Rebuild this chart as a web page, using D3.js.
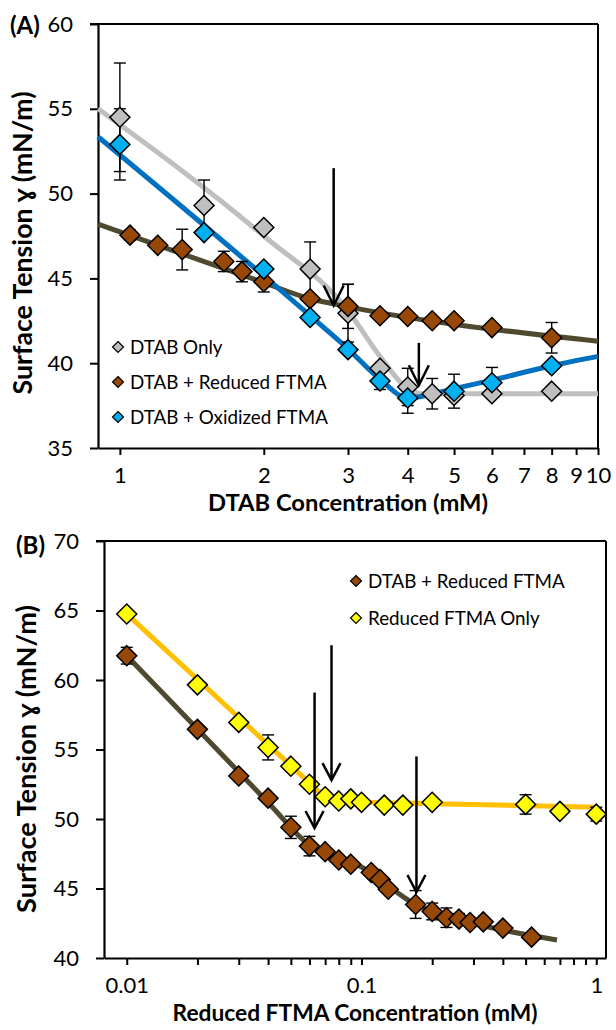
<!DOCTYPE html>
<html>
<head>
<meta charset="utf-8">
<script src="https://cdn.jsdelivr.net/npm/d3@7"></script>
<style>
  body { margin: 0; background: #fff; }
  text { font-family: Lato, "Open Sans", sans-serif; fill: #000; }
</style>
</head>
<body>
<svg id="chart" width="616" height="1030"></svg>
<script>
// ---------- panel A: DTAB concentration (mM) ----------
const onlyX   = [1, 1.5, 2, 2.5, 3, 3.5, 4, 4.5, 5, 6, 8];
const onlyY   = [54.5, 49.3, 48.0, 45.55, 42.95, 39.7, 38.6, 38.2, 38.1, 38.2, 38.35];
const onlyErr = [3.2, 1.5, 0, 1.6, 1.7, 0, 1.1, 0.9, 0, 0, 0];

const redAX   = [1.05, 1.2, 1.35, 1.65, 1.8, 2, 2.5, 3, 3.5, 4, 4.5, 5, 6, 8];
const redAY   = [47.55, 46.95, 46.7, 46.0, 45.4, 44.8, 43.8, 43.35, 42.8, 42.75, 42.5, 42.5, 42.1, 41.5];
const redAErr = [0.3, 0, 1.2, 0.6, 0.6, 0.6, 0, 1.3, 0, 0, 0, 0, 0, 0.9];

const oxX   = [1, 1.5, 2, 2.5, 3, 3.5, 4, 5, 6, 8];
const oxY   = [52.9, 47.7, 45.55, 42.7, 40.8, 38.95, 37.95, 38.35, 38.85, 39.85];
const oxErr = [2.1, 0, 0, 0, 0, 0.5, 0.9, 1.0, 0.9, 0];

// fitted trend lines [conc, tension]
const onlyFit = [[0.9, 55.0], [2.0, 47.5], [3.0, 43.1], [3.5, 40.4], [4.0, 38.5], [4.3, 38.2], [10, 38.2]];
const redAFit = [[0.9, 48.2], [2.0, 44.75], [2.5, 43.8], [2.8, 43.5], [10, 41.3]];
const oxFit   = [[0.9, 53.35], [2.5, 42.8], [3.0, 40.85], [3.5, 39.05], [4.0, 37.95], [5, 38.5], [6, 39.0], [8, 39.85], [10, 40.4]];

// arrows [conc, top, tip]
const arrowsA = [[2.8, 51.5, 43.4], [4.22, 41.2, 38.7]];

const yTicksA = [35, 40, 45, 50, 55, 60];
const xTicksA = [1, 2, 3, 4, 5, 6, 7, 8, 9, 10];

// ---------- panel B: reduced FTMA concentration (mM) ----------
const redBX   = [0.01, 0.02, 0.03, 0.04, 0.05, 0.06, 0.07, 0.08, 0.09, 0.11, 0.12, 0.13, 0.17, 0.2, 0.23, 0.26, 0.29, 0.33, 0.4, 0.53];
const redBY   = [61.75, 56.45, 53.1, 51.5, 49.4, 48.05, 47.65, 47.05, 46.75, 46.15, 45.65, 44.95, 43.85, 43.35, 42.9, 42.8, 42.55, 42.6, 42.15, 41.5];
const redBErr = [0.6, 0, 0, 0, 0.8, 0.7, 0, 0, 0, 0, 0, 0, 1.0, 0.6, 0.7, 0.4, 0, 0, 0, 0];

const ftmaX   = [0.01, 0.02, 0.03, 0.04, 0.05, 0.06, 0.07, 0.08, 0.09, 0.1, 0.125, 0.15, 0.2, 0.5, 0.7, 1.0];
const ftmaY   = [64.75, 59.65, 56.95, 55.15, 53.8, 52.5, 51.6, 51.3, 51.45, 51.2, 51.0, 51.0, 51.2, 51.05, 50.55, 50.35];
const ftmaErr = [0, 0, 0, 0.9, 0, 0, 0, 0, 0, 0, 0, 0, 0, 0.7, 0, 0.5];

const redBFit = [[0.01, 61.75], [0.02, 56.47], [0.04, 51.19], [0.06, 48.1], [0.1, 46.55], [0.17, 43.85], [0.3, 42.5], [0.68, 41.3]];
const ftmaFit = [[0.01, 64.75], [0.03, 57.3], [0.05, 53.84], [0.06, 52.6], [0.07, 51.6], [0.08, 51.3], [0.2, 51.1], [1.0, 50.85]];

const arrowsB = [[0.0631, 59.1, 49.35], [0.0745, 62.5, 52.8], [0.1714, 54.5, 44.75]];

const yTicksB = [40, 45, 50, 55, 60, 65, 70];
const xTicksB = [0.01, 0.02, 0.03, 0.04, 0.05, 0.06, 0.07, 0.08, 0.09,
                 0.1, 0.2, 0.3, 0.4, 0.5, 0.6, 0.7, 0.8, 0.9, 1];
const xLabelsB = ["0.01", "0.1", "1"];

const svg = d3.select("#chart");

function diamond(s) {
  return `M0,${-s}L${s},0L0,${s}L${-s},0Z`;
}

// scale a text's font so it spans the given width
function fitText(t, size, width) {
  t.style("font-size", size + "px");
  const w = t.node().getComputedTextLength();
  t.style("font-size", (size * width / w).toFixed(2) + "px");
  return size * width / w;
}

function drawPanel(o) {
  const x = d3.scaleLog().domain(o.xDomain).range([o.left, o.right]);
  const y = d3.scaleLinear().domain(o.yDomain).range([o.bottom, o.top]);
  const g = svg.append("g");

  // frame top + right
  g.append("line").attr("x1", o.left - 8).attr("x2", o.right)
    .attr("y1", o.top).attr("y2", o.top).attr("stroke", "#000").attr("stroke-width", 2);
  g.append("line").attr("x1", o.right).attr("x2", o.right)
    .attr("y1", o.top).attr("y2", o.bottom).attr("stroke", "#000").attr("stroke-width", 2);

  const ya = g.append("g").attr("transform", `translate(${o.left},0)`)
    .call(d3.axisLeft(y).tickValues(o.yTicks).tickSize(8).tickSizeOuter(0).tickPadding(17));
  const xa = g.append("g").attr("transform", `translate(0,${o.bottom})`)
    .call(d3.axisBottom(x).tickValues(o.xTicks).tickSize(7).tickSizeOuter(0).tickPadding(12)
      .tickFormat(o.xFormat));
  [ya, xa].forEach(a => {
    a.select(".domain").attr("stroke-width", 2.2);
    a.selectAll(".tick line").attr("stroke-width", 2);
    a.selectAll("text").style("font-size", "22px").style("font-family", "Lato, sans-serif");
  });

  // trend lines
  const line = d3.line().x(d => x(d[0])).y(d => y(d[1])).curve(d3.curveMonotoneX);
  o.fits.forEach(f => {
    g.append("path").datum(f.pts).attr("d", line)
      .attr("fill", "none").attr("stroke", f.color).attr("stroke-width", 5)
      .attr("stroke-linejoin", "round");
  });

  // error bars then markers
  o.series.forEach(s => {
    s.x.forEach((cx, i) => {
      const e = s.err[i];
      if (!e) return;
      const px = x(cx);
      const eg = g.append("g").attr("stroke", "#000").attr("stroke-width", 1.4);
      eg.append("line").attr("x1", px).attr("x2", px).attr("y1", y(s.y[i] - e)).attr("y2", y(s.y[i] + e));
      [s.y[i] - e, s.y[i] + e].forEach(v => {
        eg.append("line").attr("x1", px - 6).attr("x2", px + 6).attr("y1", y(v)).attr("y2", y(v));
      });
    });
  });
  o.series.forEach(s => {
    g.selectAll(null).data(s.x).enter().append("path")
      .attr("transform", (d, i) => `translate(${x(d)},${y(s.y[i])})`)
      .attr("d", diamond(10))
      .attr("fill", s.color).attr("stroke", "#000").attr("stroke-width", 1.5);
  });

  // arrows
  o.arrows.forEach(a => {
    const px = x(a[0]), tip = y(a[2]);
    const ag = g.append("g").attr("stroke", "#000").attr("stroke-width", 2.5).attr("fill", "none");
    ag.append("line").attr("x1", px).attr("x2", px).attr("y1", y(a[1])).attr("y2", tip);
    ag.append("path").attr("d", `M${px - o.head[0]},${tip - o.head[1]}L${px},${tip}L${px + o.head[0]},${tip - o.head[1]}`);
  });

  // legend (longest entry "DTAB + Reduced FTMA" spans ~197px)
  const items = o.legend.map((l, i) => {
    const ly = o.legendY + i * o.legendGap;
    g.append("path").attr("transform", `translate(${o.legendX},${ly})`)
      .attr("d", diamond(5.5)).attr("fill", l.color).attr("stroke", "#000").attr("stroke-width", 1.2);
    return g.append("text").attr("x", o.legendX + 12).attr("y", ly).attr("dy", "0.36em").text(l.name);
  });
  const fs = fitText(items[o.legendKey], 20, 197);
  items.forEach(t => t.style("font-size", fs.toFixed(2) + "px"));

  // titles
  const xt = g.append("text").attr("x", (o.left + o.right) / 2).attr("y", o.xTitleY)
    .attr("text-anchor", "middle").style("font-weight", 700).text(o.xTitle);
  fitText(xt, 24, o.xTitleW);
  const yt = g.append("text").attr("transform", `translate(${o.yTitleX},${o.yTitleC}) rotate(-90)`)
    .attr("text-anchor", "middle").style("font-weight", 700)
    .text("Surface Tension ɣ (mN/m)");
  fitText(yt, 24, o.yTitleW);
  g.append("text").attr("x", o.tagX).attr("y", o.tagY)
    .style("font-size", "24px").style("font-weight", 700).text(o.tag);
}

drawPanel({
  left: 98, right: 598, top: 24, bottom: 448,
  xDomain: [0.9, 10], yDomain: [35, 60],
  yTicks: yTicksA, xTicks: xTicksA, xFormat: d3.format("d"),
  fits: [
    { pts: onlyFit, color: "#BFBFBF" },
    { pts: redAFit, color: "#4F4A2F" },
    { pts: oxFit, color: "#0070C0" }
  ],
  series: [
    { x: onlyX, y: onlyY, err: onlyErr, color: "#BFBFBF" },
    { x: redAX, y: redAY, err: redAErr, color: "#974706" },
    { x: oxX, y: oxY, err: oxErr, color: "#00B0F0" }
  ],
  arrows: arrowsA, head: [10, 20],
  legend: [
    { name: "DTAB Only", color: "#BFBFBF" },
    { name: "DTAB + Reduced FTMA", color: "#974706" },
    { name: "DTAB + Oxidized FTMA", color: "#00B0F0" }
  ],
  legendKey: 1, legendX: 118, legendY: 347, legendGap: 35,
  xTitle: "DTAB Concentration (mM)", xTitleY: 511, xTitleW: 280,
  yTitleX: 32, yTitleC: 243, yTitleW: 303,
  tag: "(A)", tagX: 10, tagY: 34
});

drawPanel({
  left: 104, right: 606, top: 541, bottom: 958,
  xDomain: [0.008, 1.1], yDomain: [40, 70],
  yTicks: yTicksB, xTicks: xTicksB,
  xFormat: d => { const k = [0.01, 0.1, 1].indexOf(d); return k < 0 ? "" : xLabelsB[k]; },
  fits: [
    { pts: redBFit, color: "#4F4A2F" },
    { pts: ftmaFit, color: "#FFC000" }
  ],
  series: [
    { x: redBX, y: redBY, err: redBErr, color: "#974706" },
    { x: ftmaX, y: ftmaY, err: ftmaErr, color: "#FFFF00" }
  ],
  arrows: arrowsB, head: [9, 17],
  legend: [
    { name: "DTAB + Reduced FTMA", color: "#974706" },
    { name: "Reduced FTMA Only", color: "#FFFF00" }
  ],
  legendKey: 0, legendX: 356, legendY: 581, legendGap: 37,
  xTitle: "Reduced FTMA Concentration (mM)", xTitleY: 1021, xTitleW: 365,
  yTitleX: 36, yTitleC: 759, yTitleW: 308,
  tag: "(B)", tagX: 16, tagY: 554
});
</script>
</body>
</html>
